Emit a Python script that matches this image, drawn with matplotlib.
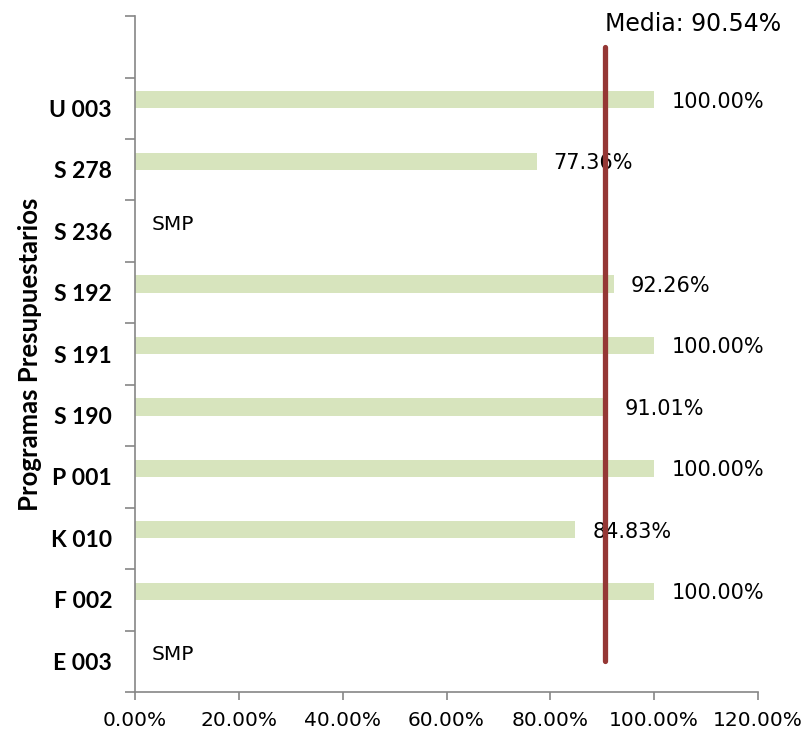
import matplotlib

matplotlib.use("Agg")
import matplotlib.pyplot as plt
from matplotlib.ticker import FixedLocator, FuncFormatter

# data, bottom to top
programas = ["E 003", "F 002", "K 010", "P 001", "S 190", "S 191", "S 192", "S 236", "S 278", "U 003"]
valores = [None, 100.0, 84.83, 100.0, 91.01, 100.0, 92.26, None, 77.36, 100.0]
media = 90.54
x_ticks = [0, 20, 40, 60, 80, 100, 120]

BAR_COLOR = "#d7e4bd"
LINE_COLOR = "#953735"
GREY = "#868686"

fig = plt.figure(figsize=(8.09, 7.34), dpi=100)
ax = fig.add_axes([0.1669, 0.0572, 0.9370 - 0.1669, 0.978 - 0.0572])

offset = 0.14
pos = list(range(len(programas)))
for i, v in zip(pos, valores):
    if v is None:
        ax.annotate("SMP", (0, i + offset), xytext=(17, -2), textcoords="offset pixels",
                    va="center", ha="left", fontsize=14.5, family="DejaVu Sans")
        continue
    ax.barh(i + offset, v, height=0.28, color=BAR_COLOR, edgecolor="none", zorder=2)
    ax.annotate(f"{v:.2f}%", (v, i + offset), xytext=(17, -2), textcoords="offset pixels",
                va="center", ha="left", fontsize=15, family="DejaVu Sans")

ax.plot([media, media], [0.0, 10.0], color=LINE_COLOR, linewidth=3.8,
        solid_capstyle="round", zorder=3)
ax.text(media, 10.37, f"Media: {media:.2f}%", ha="left", va="center",
        fontsize=17, family="DejaVu Sans")

ax.set_xlim(0, 120)
ax.set_ylim(-0.5, 10.5)
ax.set_xticks(x_ticks)
ax.xaxis.set_major_formatter(FuncFormatter(lambda x, _: f"{x:.2f}%"))
ax.set_yticks(pos)
ax.set_yticklabels(programas, fontsize=16.5, fontweight="bold", family="Lato")
ax.yaxis.set_minor_locator(FixedLocator([p - 0.5 for p in range(len(programas) + 2)]))
ax.tick_params(axis="y", which="major", length=0, pad=16.5)
ax.tick_params(axis="y", which="minor", length=7, color=GREY, width=1.2)
ax.tick_params(axis="x", length=6, color=GREY, width=1.2, labelsize=14.5, pad=8)
for lab in ax.get_xticklabels():
    lab.set_family("DejaVu Sans")

for side in ("top", "right"):
    ax.spines[side].set_visible(False)
for side in ("left", "bottom"):
    ax.spines[side].set_color(GREY)
    ax.spines[side].set_linewidth(1.2)

ax.set_ylabel("Programas Presupuestarios", fontsize=18.5, fontweight="bold", family="Lato")
ax.yaxis.set_label_coords(-0.149, 0.5)

fig.savefig("out.png", dpi=100)
